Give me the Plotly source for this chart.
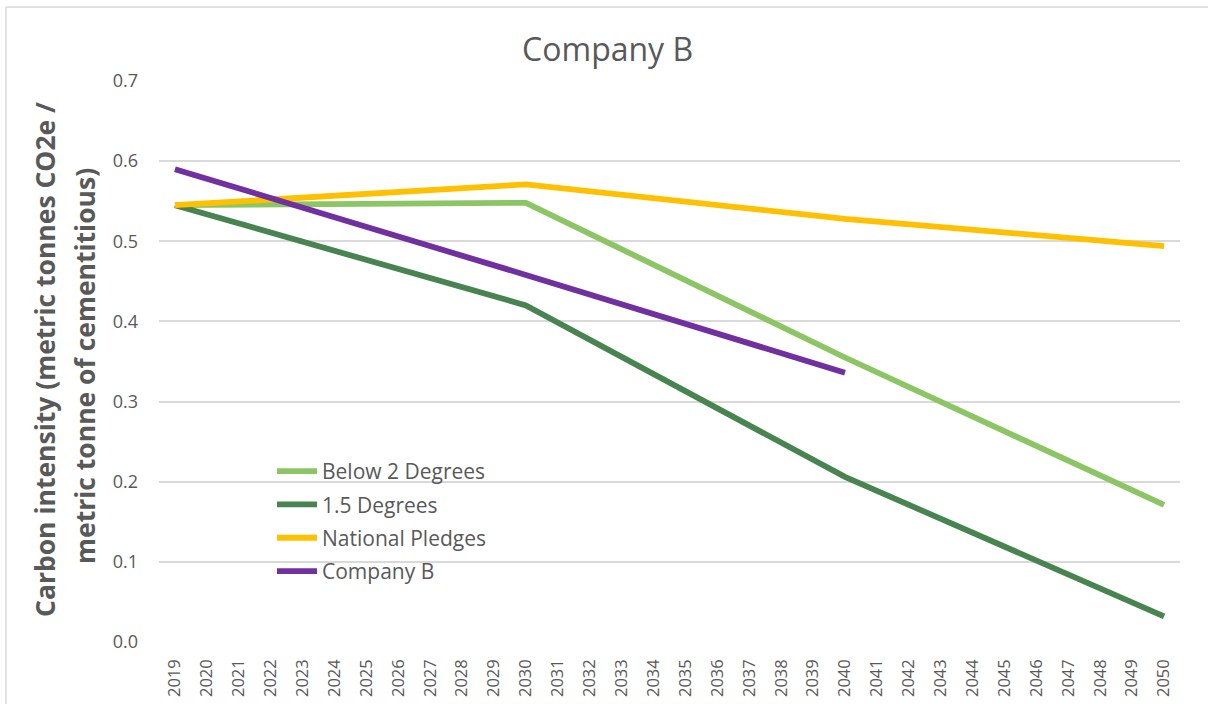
import plotly.graph_objects as go

# ---- data ----
all_years = list(range(2019, 2051))
year_labels = [str(y) for y in all_years]

below2_years = [2019, 2030, 2040, 2050]
below2_vals = [0.545, 0.548, 0.355, 0.171]

deg15_years = [2019, 2030, 2040, 2050]
deg15_vals = [0.545, 0.420, 0.206, 0.032]

pledges_years = [2019, 2030, 2040, 2050]
pledges_vals = [0.545, 0.571, 0.528, 0.494]

companyb_years = [2019, 2030, 2040]
companyb_vals = [0.590, 0.458, 0.336]

y_ticks = [0.0, 0.1, 0.2, 0.3, 0.4, 0.5, 0.6, 0.7]

# ---- styling ----
TXT = "#595959"
GRID = "#d9d9d9"
FONT = "Open Sans"

series = [
    ("Below 2 Degrees", below2_years, below2_vals, "#8CC664"),
    ("1.5 Degrees", deg15_years, deg15_vals, "#47844F"),
    ("National Pledges", pledges_years, pledges_vals, "#FFC000"),
    ("Company B", companyb_years, companyb_vals, "#7030A0"),
]

fig = go.Figure()
for i, (name, xs, ys, col) in enumerate(series):
    fig.add_trace(go.Scatter(
        x=xs, y=ys, mode="lines", name=name,
        line=dict(color=col, width=5.8),
        legendgroup=f"g{i}",
    ))

W, H = 1208, 704
L, R, T, B = 159, 28, 81, 62
pw = W - L - R
ph = H - T - B

def px_to_paper_x(p):
    return (p - L) / pw

def px_to_paper_y(p):
    return (H - B - p) / ph

fig.update_layout(
    width=W, height=H,
    margin=dict(l=L, r=R, t=T, b=B, autoexpand=False),
    paper_bgcolor="white", plot_bgcolor="white",
    font=dict(family=FONT, color=TXT),
    title=dict(text="Company B", x=0.503, xref="container", xanchor="center",
               y=1 - 50 / H, yref="container", yanchor="middle",
               font=dict(family=FONT, size=32, color=TXT)),
    xaxis=dict(
        range=[2018.5, 2050.5], tickmode="array", tickvals=all_years, ticktext=year_labels,
        tickangle=-90, tickfont=dict(size=16.5, color=TXT), showgrid=False,
        zeroline=False, showline=False, ticks="", ticklabelstandoff=13,
        fixedrange=True,
    ),
    yaxis=dict(
        range=[0, 0.7], tickmode="array", tickvals=y_ticks,
        ticktext=[f"{v:.1f}" for v in y_ticks],
        tickfont=dict(size=18, color=TXT), showgrid=True, gridcolor=GRID, gridwidth=1.5,
        zeroline=False, showline=False, ticks="", ticklabelstandoff=20,
    ),
    legend=dict(
        x=px_to_paper_x(272), y=px_to_paper_y(451), xanchor="left", yanchor="top",
        bgcolor="rgba(255,255,255,0)", font=dict(family=FONT, size=21, color=TXT),
        traceorder="grouped", tracegroupgap=3, itemwidth=40,
    ),
    showlegend=True,
)

# y axis title: two lines
fig.add_annotation(text="Carbon intensity (metric tonnes CO2e /", x=px_to_paper_x(45), y=px_to_paper_y(360),
                   xref="paper", yref="paper", textangle=-90, showarrow=False,
                   font=dict(family=FONT, size=26.5, color=TXT, weight="bold"),
                   xanchor="center", yanchor="middle")
fig.add_annotation(text="metric tonne of cementitious)", x=px_to_paper_x(85), y=px_to_paper_y(366),
                   xref="paper", yref="paper", textangle=-90, showarrow=False,
                   font=dict(family=FONT, size=26.5, color=TXT, weight="bold"),
                   xanchor="center", yanchor="middle")

# chart-area border (left and top edges visible)
fig.add_shape(type="line", xref="paper", yref="paper",
              x0=px_to_paper_x(6), x1=px_to_paper_x(6), y0=px_to_paper_y(7), y1=px_to_paper_y(704),
              line=dict(color=GRID, width=1.5))
fig.add_shape(type="line", xref="paper", yref="paper",
              x0=px_to_paper_x(6), x1=px_to_paper_x(1208), y0=px_to_paper_y(7), y1=px_to_paper_y(7),
              line=dict(color=GRID, width=1.5))

fig.write_html("out.html", config={"displayModeBar": False},
               post_script="document.body.style.margin='0';document.body.style.overflow='hidden';")
